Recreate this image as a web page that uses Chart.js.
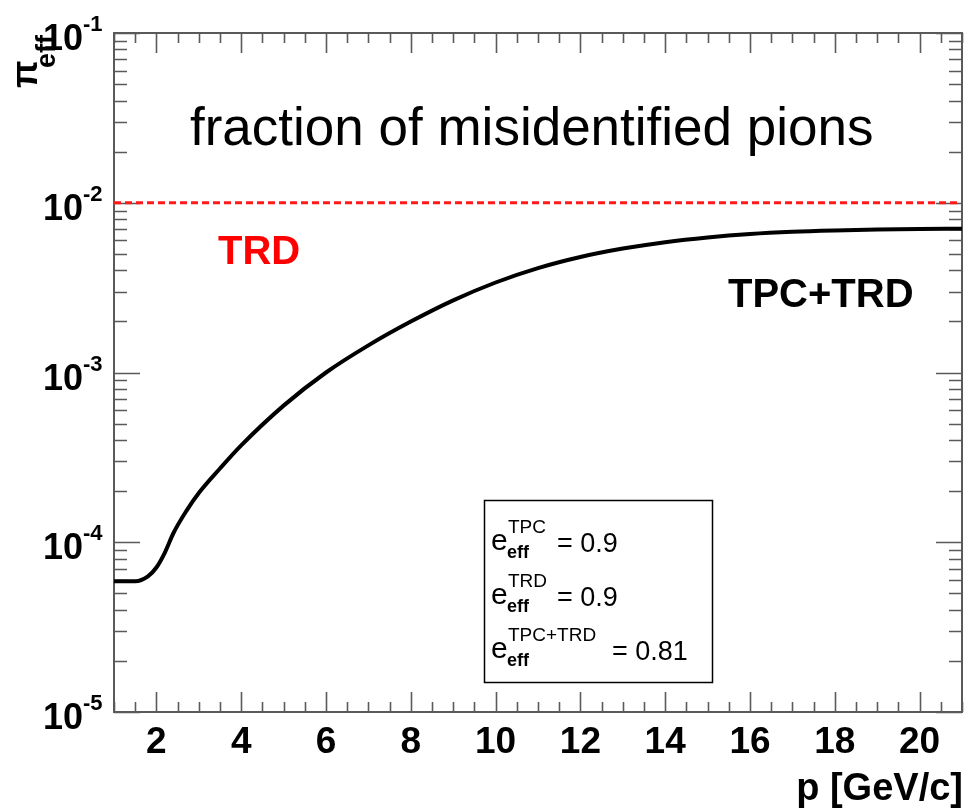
<!DOCTYPE html>
<html>
<head>
<meta charset="utf-8">
<script src="https://cdn.jsdelivr.net/npm/chart.js@4"></script>
<style>
html,body{margin:0;padding:0;background:#fff;}
canvas{display:block;}
</style>
</head>
<body>
<canvas id="pionChart" width="968" height="810"></canvas>
<script>

// momentum grid [GeV/c] and misidentified pion fraction for TPC+TRD
const momentum = [1, 1.5, 1.8, 2.0, 2.2, 2.4, 2.7, 3.0, 3.5, 4, 5, 6, 7, 8, 9, 10, 11, 12, 13, 14, 15, 16, 17, 18, 19, 20, 21];
const pionEffCombined = [5.9e-5, 5.9e-5, 6.3e-5, 7.1e-5, 8.7e-5, 1.13e-4, 1.52e-4, 1.95e-4, 2.72e-4, 3.72e-4, 6.38e-4, 1.0e-3, 1.445e-3, 1.995e-3, 2.66e-3, 3.39e-3, 4.12e-3, 4.79e-3, 5.37e-3, 5.86e-3, 6.25e-3, 6.55e-3, 6.75e-3, 6.87e-3, 6.95e-3, 7.0e-3, 7.03e-3];

// TRD alone: flat level
const trdMomentum = [1, 21];
const pionEffTrd = [1e-2, 1e-2];

// axis ticks
const xTickValues = [2, 4, 6, 8, 10, 12, 14, 16, 18, 20];
const xMinorStep = 0.5;
const yExponents = [-5, -4, -3, -2, -1];

// efficiency box entries
const effLabels = ["TPC", "TRD", "TPC+TRD"];
const effValues = ["0.9", "0.9", "0.81"];

const FONT = "'Liberation Sans', Arial, Helvetica, sans-serif";
const AXIS_COLOR = "#5a5a5a";

function toPoints(xs, ys){
return xs.map((x,i)=>({x:x, y:ys[i]}));
}

const rootStyle = {
id:"rootStyle",
beforeDatasetsDraw(chart){
const ctx = chart.ctx;
const a = chart.chartArea;
const xs = chart.scales.x;
const ys = chart.scales.y;

ctx.save();
ctx.strokeStyle = AXIS_COLOR;
ctx.lineWidth = 2;
ctx.strokeRect(a.left, a.top, a.right-a.left, a.bottom-a.top);

// x ticks, bottom and top, pointing inwards
ctx.lineWidth = 1.6;
for(let v = xs.min; v <= xs.max + 1e-9; v += xMinorStep){
const px = Math.round(xs.getPixelForValue(v)) + 0.5;
const len = xTickValues.includes(v) ? 20 : 10;
ctx.beginPath();
ctx.moveTo(px, a.bottom); ctx.lineTo(px, a.bottom - len);
ctx.moveTo(px, a.top); ctx.lineTo(px, a.top + len);
ctx.stroke();
}

// y ticks on a log axis: decades plus 2..9
yExponents.forEach((e,i)=>{
for(let m = 1; m <= 9; m++){
if(i === yExponents.length-1 && m > 1) break;
const v = m * Math.pow(10, e);
const py = Math.round(ys.getPixelForValue(v)) + 0.5;
const len = m === 1 ? 26 : 13;
ctx.beginPath();
ctx.moveTo(a.left, py); ctx.lineTo(a.left + len, py);
ctx.moveTo(a.right, py); ctx.lineTo(a.right - len, py);
ctx.stroke();
}
});
ctx.restore();
},
afterDraw(chart){
const ctx = chart.ctx;
const a = chart.chartArea;
const xs = chart.scales.x;
const ys = chart.scales.y;

ctx.save();
ctx.fillStyle = "#000";

// x tick labels
ctx.font = "bold 37px " + FONT;
ctx.textAlign = "center";
ctx.textBaseline = "alphabetic";
xTickValues.forEach(v=>{
ctx.fillText(String(v), xs.getPixelForValue(v), a.bottom + 41);
});

// y tick labels as 10 with superscript exponent
yExponents.forEach(e=>{
const py = ys.getPixelForValue(Math.pow(10, e));
ctx.font = "bold 36px " + FONT;
ctx.textAlign = "right";
ctx.fillText("10", 83, py + 17);
ctx.font = "bold 22px " + FONT;
ctx.textAlign = "left";
ctx.fillText(String(e), 83, py - 2);
});

// axis titles
ctx.font = "bold 38px " + FONT;
ctx.textAlign = "right";
ctx.fillText("p [GeV/c]", 963, 800);

ctx.save();
ctx.translate(37, 88);
ctx.rotate(-Math.PI/2);
ctx.textAlign = "left";
ctx.font = "bold 36px " + FONT;
ctx.fillText("\u03c0", 0, 0);
ctx.font = "bold 27px " + FONT;
ctx.fillText("eff", 20, 18);
ctx.restore();

// title inside the frame
ctx.font = "53px " + FONT;
ctx.textAlign = "left";
ctx.fillText("fraction of misidentified pions", 190, 145);

// curve labels
ctx.font = "bold 40px " + FONT;
ctx.fillStyle = "#ff0000";
ctx.fillText("TRD", 218, 264);
ctx.fillStyle = "#000";
ctx.fillText("TPC+TRD", 728, 307);

// efficiency box
ctx.strokeStyle = "#000";
ctx.lineWidth = 1.5;
ctx.strokeRect(484.5, 500.5, 228, 182);
effLabels.forEach((lab,i)=>{
const base = 550 + i*54;
ctx.textAlign = "left";
ctx.font = "30px " + FONT;
ctx.fillText("e", 491, base);
ctx.font = "19px " + FONT;
ctx.fillText(lab, 508, base - 17);
ctx.font = "bold 18px " + FONT;
ctx.fillText("eff", 507, base + 8);
ctx.font = "27px " + FONT;
const xEq = i === 2 ? 612 : 557;
ctx.fillText("= " + effValues[i], xEq, base + 2);
});

ctx.restore();
}
};

new Chart(document.getElementById("pionChart"),{
type:"line",
data:{
datasets:[
{
label:"TPC+TRD",
data:toPoints(momentum, pionEffCombined),
borderColor:"#000",
borderWidth:4,
pointRadius:0,
tension:0.4,
cubicInterpolationMode:"monotone",
fill:false
},
{
label:"TRD",
data:toPoints(trdMomentum, pionEffTrd),
borderColor:"#ff1a1a",
borderWidth:3,
borderDash:[7,4],
pointRadius:0,
fill:false
}
]
},
options:{
responsive:false,
animation:false,
devicePixelRatio:1,
layout:{padding:{left:114, top:33, right:6, bottom:98}},
plugins:{
legend:{display:false},
tooltip:{enabled:false}
},
scales:{
x:{type:"linear", min:1, max:21, display:false},
y:{type:"logarithmic", min:1e-5, max:1e-1, display:false}
}
},
plugins:[rootStyle]
});

</script>
</body>
</html>
